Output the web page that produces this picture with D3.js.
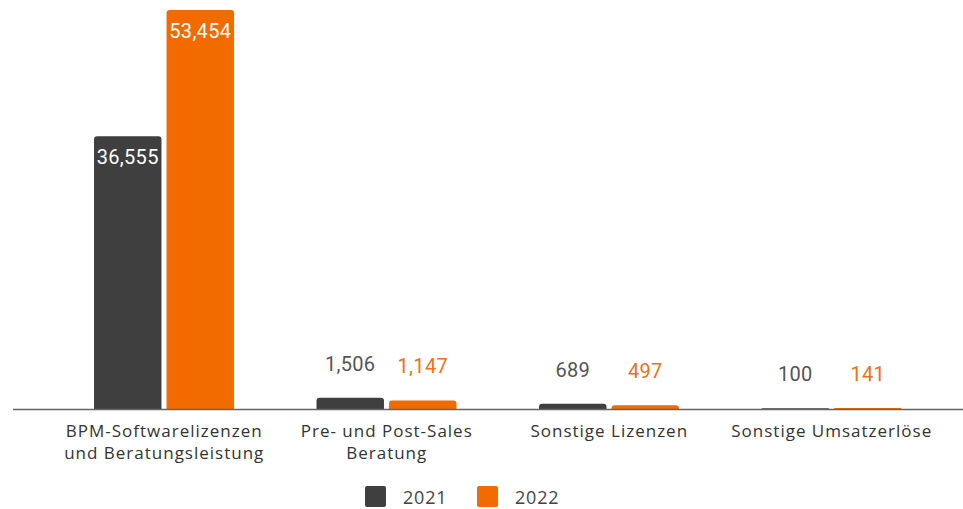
<!DOCTYPE html>
<html><head><meta charset="utf-8">
<script src="https://cdn.jsdelivr.net/npm/d3@7"></script>
<style>body{margin:0;background:#fff}</style>
</head><body>
<svg id="c" width="963" height="509"></svg>
<script>
const categories = [["BPM-Softwarelizenzen","und Beratungsleistung"],["Pre- und Post-Sales","Beratung"],["Sonstige Lizenzen"],["Sonstige Umsatzerlöse"]];
const series = ["2021","2022"];
const values2021 = [36555, 1506, 689, 100];
const values2022 = [53454, 1147, 497, 141];
const colors = {"2021":"#3f3f3f","2022":"#f26b00"};
const labelColors = {"2021":"#555555","2022":"#f07018"};

const svg = d3.select("#c");
const baseY = 409, topY = 10;
const x0 = d3.scaleBand().domain(d3.range(categories.length)).range([53, 943]);
const x1 = d3.scaleBand().domain(series).range([41, 181]).paddingInner(0.07);
const y = d3.scaleLinear().domain([0, 53454]).range([baseY, topY]);
const fmt = d3.format(",");
const data = categories.map((c,i)=>({c, i, vals:[{s:"2021",v:values2021[i]},{s:"2022",v:values2022[i]}]}));

function roundTop(x,y0,w,h,r){
  r=Math.min(r,h,w/2);
  return `M${x},${y0+h}V${y0+r}Q${x},${y0} ${x+r},${y0}H${x+w-r}Q${x+w},${y0} ${x+w},${y0+r}V${y0+h}Z`;
}
const g = svg.selectAll("g.grp").data(data).join("g").attr("transform",d=>`translate(${x0(d.i)},0)`);
g.selectAll("path").data(d=>d.vals).join("path")
  .attr("d",d=>roundTop(x1(d.s), y(d.v), x1.bandwidth(), baseY-y(d.v), 3))
  .attr("fill",d=>colors[d.s]);
g.selectAll("text.val").data(d=>d.vals).join("text")
  .attr("class","val")
  .attr("x",d=>x1(d.s)+x1.bandwidth()/2)
  .attr("y",d=> (baseY-y(d.v))>60 ? y(d.v)+28 : y(d.v)-27)
  .attr("text-anchor","middle")
  .attr("font-family","Roboto, sans-serif").attr("font-size",20).attr("letter-spacing",0.3)
  .attr("fill",d=> (baseY-y(d.v))>60 ? "#ffffff" : labelColors[d.s])
  .text(d=>fmt(d.v));

svg.append("line").attr("x1",13).attr("x2",963).attr("y1",baseY+0.5).attr("y2",baseY+0.5).attr("stroke","#666").attr("stroke-width",1.5);

svg.selectAll("text.cat").data(data).join("text").attr("class","cat")
  .attr("x",d=>x0(d.i)+x0.bandwidth()/2).attr("y",437)
  .attr("text-anchor","middle").attr("font-family","'Open Sans', sans-serif").attr("font-size",17).attr("letter-spacing",1).attr("fill","#333")
  .each(function(d){
    d3.select(this).selectAll("tspan").data(d.c).join("tspan")
      .attr("x",x0(d.i)+x0.bandwidth()/2).attr("dy",(t,j)=>j?22:0).text(t=>t);
  });

const leg = svg.append("g");
const legX = {"2021":365,"2022":477};
series.forEach(s=>{
  leg.append("rect").attr("x",legX[s]).attr("y",486).attr("width",21).attr("height",21).attr("rx",2).attr("fill",colors[s]);
  leg.append("text").attr("x",legX[s]+38).attr("y",504).attr("font-family","'Open Sans', sans-serif").attr("font-size",18).attr("letter-spacing",0.8).attr("fill","#444").text(s);
});
</script>
</body></html>
